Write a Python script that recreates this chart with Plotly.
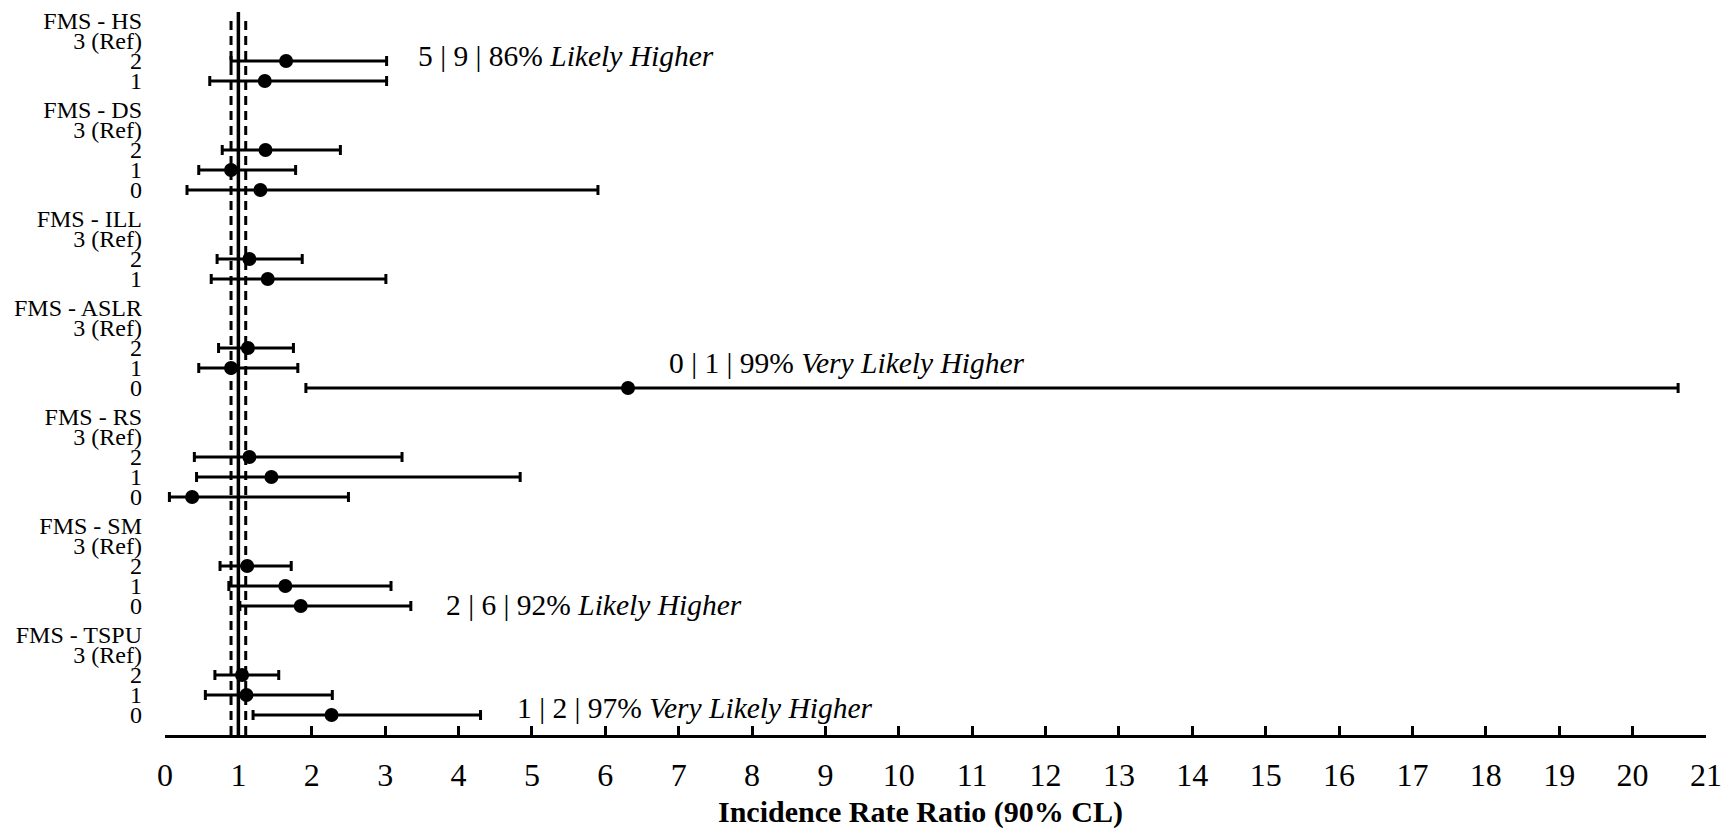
import plotly.graph_objects as go

# ---------------- data ----------------
groups = ["FMS - HS", "FMS - DS", "FMS - ILL", "FMS - ASLR", "FMS - RS", "FMS - SM", "FMS - TSPU"]
ref_label = "3 (Ref)"

hs_levels = ["2", "1"]
hs_irr = [1.65, 1.36]
hs_lo = [0.90, 0.61]
hs_hi = [3.02, 3.02]

ds_levels = ["2", "1", "0"]
ds_irr = [1.37, 0.90, 1.30]
ds_lo = [0.78, 0.46, 0.30]
ds_hi = [2.39, 1.78, 5.90]

ill_levels = ["2", "1"]
ill_irr = [1.15, 1.40]
ill_lo = [0.71, 0.63]
ill_hi = [1.87, 3.01]

aslr_levels = ["2", "1", "0"]
aslr_irr = [1.13, 0.90, 6.31]
aslr_lo = [0.73, 0.46, 1.92]
aslr_hi = [1.75, 1.81, 20.62]

rs_levels = ["2", "1", "0"]
rs_irr = [1.15, 1.45, 0.37]
rs_lo = [0.40, 0.43, 0.06]
rs_hi = [3.23, 4.84, 2.50]

sm_levels = ["2", "1", "0"]
sm_irr = [1.12, 1.64, 1.85]
sm_lo = [0.75, 0.87, 1.02]
sm_hi = [1.72, 3.08, 3.35]

tspu_levels = ["2", "1", "0"]
tspu_irr = [1.05, 1.11, 2.27]
tspu_lo = [0.68, 0.55, 1.20]
tspu_hi = [1.55, 2.28, 4.30]

ref_line = 1.0
swc_low = 0.9
swc_high = 1.1

x_ticks = list(range(0, 22))
x_title = "Incidence Rate Ratio (90% CL)"

# annotations
ann_group = ["FMS - HS", "FMS - ASLR", "FMS - SM", "FMS - TSPU"]
ann_level = ["2", "0", "0", "0"]
ann_counts = ["5 | 9 | 86%", "0 | 1 | 99%", "2 | 6 | 92%", "1 | 2 | 97%"]
ann_desc = ["Likely Higher", "Very Likely Higher", "Likely Higher", "Very Likely Higher"]
ann_x = [3.42, 6.84, 3.80, 4.77]

# ---------------- build ----------------
series = [
    (hs_levels, hs_irr, hs_lo, hs_hi),
    (ds_levels, ds_irr, ds_lo, ds_hi),
    (ill_levels, ill_irr, ill_lo, ill_hi),
    (aslr_levels, aslr_irr, aslr_lo, aslr_hi),
    (rs_levels, rs_irr, rs_lo, rs_hi),
    (sm_levels, sm_irr, sm_lo, sm_hi),
    (tspu_levels, tspu_irr, tspu_lo, tspu_hi),
]

GAP = 1.45  # spacing between last row of a group and next header (row units)
tickvals, ticktext = [], []
px, py, plus, minus = [], [], [], []
row_pos = {}
pos = 0.0
for gi, (g, (lv, irr, lo, hi)) in enumerate(zip(groups, series)):
    if gi > 0:
        pos += GAP
    tickvals.append(pos); ticktext.append(g)
    pos += 1
    tickvals.append(pos); ticktext.append(ref_label)
    for l, v, a, b in zip(lv, irr, lo, hi):
        pos += 1
        tickvals.append(pos); ticktext.append(l)
        px.append(v); py.append(pos)
        plus.append(b - v); minus.append(v - a)
        row_pos[(g, l)] = pos

FONT = "Times New Roman, Liberation Serif, serif"

fig = go.Figure()
fig.add_trace(go.Scatter(
    x=px, y=py, mode="markers",
    marker=dict(size=14, color="black"),
    error_x=dict(type="data", symmetric=False, array=plus, arrayminus=minus,
                 color="black", thickness=3, width=5),
    showlegend=False, hoverinfo="skip",
))

# reference lines
fig.add_shape(type="line", x0=ref_line, x1=ref_line, y0=0, y1=1, xref="x", yref="paper",
              line=dict(color="black", width=3.5), layer="below")
for xv in (swc_low, swc_high):
    fig.add_shape(type="line", x0=xv, x1=xv, y0=0, y1=0.992, xref="x", yref="paper",
                  line=dict(color="black", width=3, dash="9px,6px"), layer="below")

yshifts = [5, 25, 1, 7]
for g, l, c, d, xv, ys in zip(ann_group, ann_level, ann_counts, ann_desc, ann_x, yshifts):
    fig.add_annotation(x=xv, y=row_pos[(g, l)], xref="x", yref="y",
                       text=f"{c} <i>{d}</i>", showarrow=False,
                       xanchor="left", yanchor="middle", yshift=ys,
                       font=dict(family=FONT, size=29.5, color="black"))

W, H = 1722, 831
top_px, bottom_px, first_px, unit_px = 12, 735, 21, 20.0
y_top = (top_px - first_px) / unit_px
y_bot = (bottom_px - first_px) / unit_px

# x-axis title as a paper-anchored annotation (slightly left of plot centre)
fig.add_annotation(x=0.49, y=-(812 - bottom_px) / (bottom_px - top_px),
                   xref="paper", yref="paper", showarrow=False,
                   xanchor="center", yanchor="middle",
                   text=f"<b>{x_title}</b>",
                   font=dict(family=FONT, size=30, color="black"))

fig.update_layout(
    width=W, height=H,
    margin=dict(l=165, r=16, t=top_px, b=H - bottom_px, autoexpand=False),
    plot_bgcolor="white", paper_bgcolor="white",
    font=dict(family=FONT, color="black"),
    xaxis=dict(range=[0, 21], tickvals=x_ticks, ticktext=[str(v) for v in x_ticks],
               showgrid=False, zeroline=False, showline=True, linecolor="black",
               linewidth=3, ticks="inside", ticklen=9, tickwidth=3, tickcolor="black",
               tickfont=dict(family=FONT, size=32), ticklabelstandoff=10,
               automargin=False),
    yaxis=dict(range=[y_bot, y_top], tickvals=tickvals, ticktext=ticktext,
               showgrid=False, zeroline=False, showline=False, ticks="",
               automargin=False,
               tickfont=dict(family=FONT, size=24), ticklabelstandoff=22),
)

fig.write_html(
    "out.html",
    config={"displayModeBar": False},
    post_script="document.body.style.margin='0';document.body.style.overflow='hidden';",
)
